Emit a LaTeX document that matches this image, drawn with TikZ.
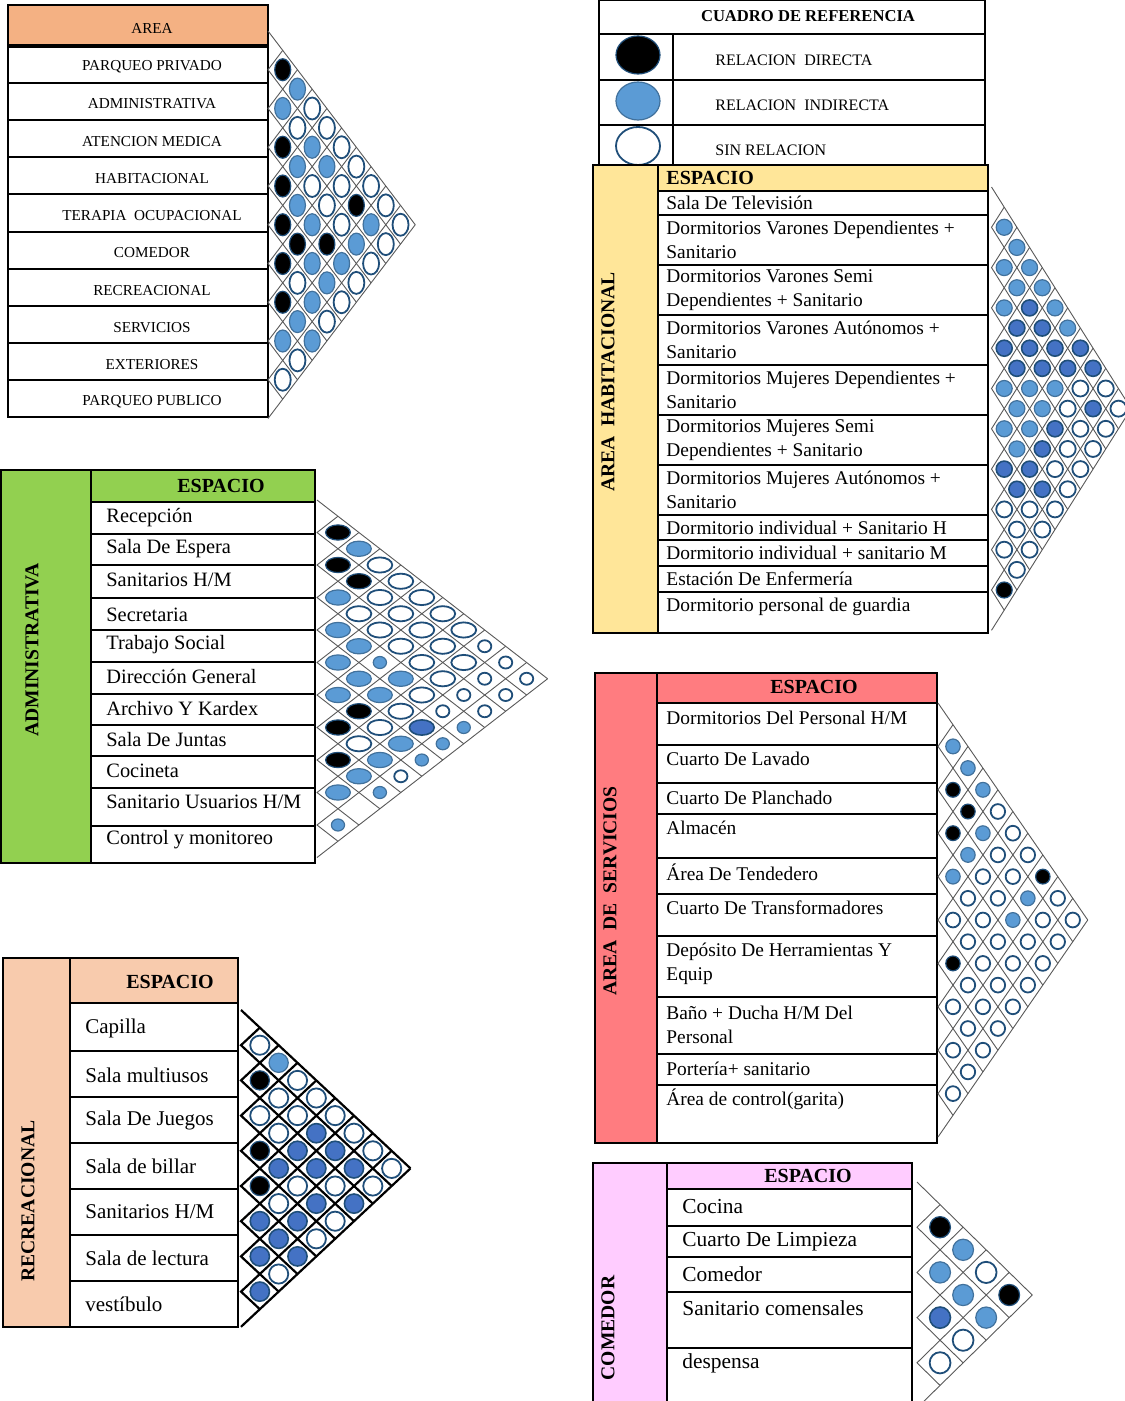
\documentclass[tikz,border=0pt]{standalone}
\usepackage{fontspec}
\setmainfont{Liberation Serif}
\definecolor{cOrange}{HTML}{F4B183}
\definecolor{cYellow}{HTML}{FFE699}
\definecolor{cGreen}{HTML}{92D050}
\definecolor{cRed}{HTML}{FF7C80}
\definecolor{cPeach}{HTML}{F8CBAD}
\definecolor{cPink}{HTML}{FFCCFF}
\definecolor{cBlue}{HTML}{5B9BD5}
\definecolor{cBlueLine}{HTML}{41719C}
\definecolor{cDark}{HTML}{1F4E79}
\definecolor{cMid}{HTML}{4472C4}
\tikzset{
  tbl/.style={draw=black, line width=1pt},
  gridthin/.style={draw=black!65, line width=0.45pt},
  gridthick/.style={draw=black, line width=1.1pt},
  relB/.style={fill=black, draw=cDark, line width=0.6pt},
  relI/.style={fill=cBlue, draw=cBlueLine, line width=0.6pt},
  relD/.style={fill=cMid, draw=cDark, line width=0.8pt},
  relO/.style={fill=white, draw=cDark, line width=0.9pt},
  relN/.style={},
  relIs/.style={relI, x radius=3.3pt, y radius=3pt},
  relOs/.style={relO, x radius=3.3pt, y radius=3pt},
  txtA/.style={font=\fontsize{7.6}{9}\selectfont, inner sep=0pt},
  txtR/.style={font=\fontsize{8}{10}\selectfont, anchor=west, inner sep=0pt},
  txtH/.style={font=\fontsize{9.7}{12}\selectfont, anchor=west, inner sep=0pt, align=left},
  txtAd/.style={font=\fontsize{10.2}{12}\selectfont, anchor=west, inner sep=0pt},
  txtRe/.style={font=\fontsize{10.5}{12}\selectfont, anchor=west, inner sep=0pt},
  txtC/.style={font=\fontsize{10.7}{12}\selectfont, anchor=west, inner sep=0pt},
  head/.style={font=\bfseries\fontsize{10}{12}\selectfont, inner sep=0pt},
  vtitle/.style={font=\bfseries\fontsize{9.8}{12}\selectfont, rotate=90, inner sep=0pt}
}
% #1 x0, #2 top, #3 row height, #4 slope, #5 rows, #6 line style, #7 x radius, #8 y radius, #9 diagonals
\newcommand\relmat[9]{%
  \foreach \kk in {0,...,#5}{%
    \pgfmathsetmacro\yk{#2+\kk*#3}%
    \pgfmathsetmacro\ldx{#4*(#5-\kk)*#3/2}%
    \pgfmathsetmacro\ldy{(#5-\kk)*#3/2}%
    \pgfmathsetmacro\udx{#4*\kk*#3/2}%
    \pgfmathsetmacro\udy{\kk*#3/2}%
    \draw[#6] (#1+\udx,\yk-\udy) -- (#1,\yk) -- (#1+\ldx,\yk+\ldy);
  }%
  \foreach \diag [count=\dd] in {#9}{%
    \foreach \vv [count=\ii] in \diag {%
      \pgfmathsetmacro\cx{#1+#4*\dd*#3/2}%
      \pgfmathsetmacro\cy{#2+(\ii+(\dd-1)/2)*#3}%
      \path[x radius=#7, y radius=#8, rel\vv] (\cx,\cy) ellipse[];
    }%
  }%
}
\begin{document}
\begin{tikzpicture}[x=0.5pt,y=-0.5pt]
\useasboundingbox[fill=white] (0,0) rectangle (1124,1401);

% ================= AREA table =================
\fill[cOrange] (8,5) rectangle (268,45);
\draw[tbl] (8,5) rectangle (268,417);
\draw[draw=black, line width=1.6pt] (8,46) -- (268,46);
\foreach \yy in {83,120,157,194,232,269,306,343,380}{\draw[tbl] (8,\yy) -- (268,\yy);}
\node[txtA] (areah) at (152,28) {AREA};
\node[txtA] (ar1) at (152,67) {PARQUEO PRIVADO};
\node[txtA] (ar2) at (152,104) {ADMINISTRATIVA};
\node[txtA] (ar3) at (152,142) {ATENCION MEDICA};
\node[txtA] (ar4) at (152,179) {HABITACIONAL};
\node[txtA] (ar5) at (152,216) {TERAPIA\ \ OCUPACIONAL};
\node[txtA] (ar6) at (152,253) {COMEDOR};
\node[txtA] (ar7) at (152,291) {RECREACIONAL};
\node[txtA] (ar8) at (152,328) {SERVICIOS};
\node[txtA] (ar9) at (152,365) {EXTERIORES};
\node[txtA] (ar10) at (152,402) {PARQUEO PUBLICO};
\relmat{268}{31}{38.75}{0.76}{10}{gridthin}{4pt}{5.5pt}{{B,I,B,B,B,B,B,I,O},{I,O,I,I,B,O,I,O},{O,I,O,I,I,I,I},{O,I,O,B,I,O},{O,O,O,I,O},{O,B,I,O},{O,I,O},{O,O},{O}}

% ================= Reference box =================
\draw[tbl] (599,0) -- (985,0);
\draw[tbl] (599,0) -- (599,165);
\draw[tbl] (985,0) -- (985,165);
\draw[tbl] (673,34) -- (673,165);
\foreach \yy in {34,80,125}{\draw[tbl] (599,\yy) -- (985,\yy);}
\path[relB] (638,55) ellipse[x radius=11pt, y radius=9.5pt];
\path[relI] (638,101) ellipse[x radius=11pt, y radius=9.5pt];
\path[relO] (638,146) ellipse[x radius=11pt, y radius=9.5pt];
\node[font=\bfseries\fontsize{8.3}{10}\selectfont, inner sep=0pt] (reft) at (808,16) {CUADRO DE REFERENCIA};
\node[txtR] (ref1) at (715,60) {RELACION\ \ DIRECTA};
\node[txtR] (ref2) at (715,105) {RELACION\ \ INDIRECTA};
\node[txtR] (ref3) at (715,150) {SIN RELACION};

% ================= Habitacional =================
\fill[cYellow] (593,165) rectangle (658,633);
\fill[cYellow] (658,165) rectangle (988,191);
\fill[white] (658,191) rectangle (988,633);
\draw[tbl] (593,165) rectangle (988,633);
\draw[tbl] (658,165) -- (658,633);
\foreach \yy in {191,215,265,315,365,415,465,515,540,566,592}{\draw[tbl] (658,\yy) -- (988,\yy);}
\node[head, anchor=west] (hbh) at (666,178) {ESPACIO};
\node[vtitle] (hbt) at (608,382) {AREA\ \ HABITACIONAL};
\node[txtH] (hb1) at (666,203) {Sala De Televisión};
\node[txtH] (hb2) at (666,240) {Dormitorios Varones Dependientes +\\Sanitario};
\node[txtH] (hb3) at (666,290) {Dormitorios Varones Semi\\Dependientes + Sanitario};
\node[txtH] (hb4) at (666,340) {Dormitorios Varones Autónomos +\\Sanitario};
\node[txtH] (hb5) at (666,390) {Dormitorios Mujeres Dependientes +\\Sanitario};
\node[txtH] (hb6) at (666,440) {Dormitorios Mujeres Semi\\Dependientes + Sanitario};
\node[txtH] (hb7) at (666,490) {Dormitorios Mujeres Autónomos +\\Sanitario};
\node[txtH] (hb8) at (666,528) {Dormitorio individual + Sanitario H};
\node[txtH] (hb9) at (666,553) {Dormitorio individual + sanitario M};
\node[txtH] (hb10) at (666,579) {Estación De Enfermería};
\node[txtH] (hb11) at (666,607) {Dormitorio personal de guardia};
\relmat{991.5}{187}{40.3}{0.63}{11}{gridthin}{4pt}{4pt}{{I,I,I,D,I,I,D,O,O,B},{I,I,D,D,I,I,D,O,O},{I,D,D,I,I,D,O,O},{I,D,D,I,D,D,O},{I,D,I,D,O,O},{I,D,O,O,O},{D,O,O,O},{D,D,O},{O,O},{O}}

% ================= Administrativa =================
\fill[cGreen] (1,470) rectangle (91,863);
\fill[cGreen] (91,470) rectangle (315,502);
\draw[tbl] (1,470) rectangle (315,863);
\draw[tbl] (91,470) -- (91,863);
\foreach \yy in {502,534,565,598,630,662,694,725,756,788,826}{\draw[tbl] (91,\yy) -- (315,\yy);}
\node[head] (adh) at (221,486) {ESPACIO};
\node[vtitle] (adt) at (32,650) {ADMINISTRATIVA};
\node[txtAd] (ad1) at (106,518) {Recepción};
\node[txtAd] (ad2) at (106,549) {Sala De Espera};
\node[txtAd] (ad3) at (106,580) {Sanitarios H/M};
\node[txtAd] (ad4) at (106,615) {Secretaria};
\node[txtAd] (ad5) at (106,645) {Trabajo Social};
\node[txtAd] (ad6) at (106,677) {Dirección General};
\node[txtAd] (ad7) at (106,709) {Archivo Y Kardex};
\node[txtAd] (ad8) at (106,740) {Sala De Juntas};
\node[txtAd] (ad9) at (106,771) {Cocineta};
\node[txtAd] (ad10) at (106,802) {Sanitario Usuarios H/M};
\node[txtAd] (ad11) at (106,840) {Control y monitoreo};
\relmat{317}{500}{32.5}{1.29}{11}{gridthin}{6.2pt}{3.8pt}{{B,B,I,I,I,I,B,B,I,Is},{I,B,O,I,I,B,O,I,N},{O,O,O,Is,I,O,I,Is},{O,O,O,I,O,I,Os},{O,O,O,O,D,Is},{O,O,O,Os,Is},{O,O,Os,Is},{Os,Os,Os},{Os,Os},{Os}}

% ================= Servicios =================
\fill[cRed] (595,673) rectangle (657,1143);
\fill[cRed] (657,673) rectangle (937,703);
\draw[tbl] (595,673) rectangle (937,1143);
\draw[tbl] (657,673) -- (657,1143);
\foreach \yy in {703,745,783,814,858,894,936,997,1054,1085}{\draw[tbl] (657,\yy) -- (937,\yy);}
\node[head] (svh) at (814,687) {ESPACIO};
\node[vtitle] (svt) at (610,891) {AREA\ \ DE\ \ SERVICIOS};
\node[txtH] (sv1) at (666,718) {Dormitorios Del Personal H/M};
\node[txtH] (sv2) at (666,759) {Cuarto De Lavado};
\node[txtH] (sv3) at (666,798) {Cuarto De Planchado};
\node[txtH] (sv4) at (666,828) {Almacén};
\node[txtH] (sv5) at (666,872) {Área De Tendedero};
\node[txtH] (sv6) at (666,908) {Cuarto De Transformadores};
\node[txtH] (sv7) at (666,963.5) {Depósito De Herramientas Y\\Equip};
\node[txtH] (sv8) at (666,1024.5) {Baño + Ducha H/M Del\\Personal};
\node[txtH] (sv9) at (666,1069) {Portería+ sanitario};
\node[txtH] (sv10) at (666,1099) {Área de control(garita)};
\relmat{938}{703}{43.4}{0.69}{10}{gridthin}{3.6pt}{3.7pt}{{I,B,B,I,O,B,O,O,O},{I,B,I,O,O,O,O,O},{I,I,O,O,O,O,O},{O,O,O,O,O,O},{O,O,I,O,O},{O,I,O,O},{B,O,O},{O,O},{O}}

% ================= Recreacional =================
\fill[cPeach] (3,958) rectangle (70,1327);
\fill[cPeach] (70,958) rectangle (238,1003);
\draw[tbl] (3,958) rectangle (238,1327);
\draw[tbl] (70,958) -- (70,1327);
\foreach \yy in {1003,1051,1097,1143,1189,1235,1281}{\draw[tbl] (70,\yy) -- (238,\yy);}
\node[head] (reh) at (170,982) {ESPACIO};
\node[vtitle] (ret) at (28,1201) {RECREACIONAL};
\node[txtRe] (re1) at (85,1028) {Capilla};
\node[txtRe] (re2) at (85,1075) {Sala multiusos};
\node[txtRe] (re3) at (85,1120) {Sala De Juegos};
\node[txtRe] (re4) at (85,1166) {Sala de billar};
\node[txtRe] (re5) at (85,1212) {Sanitarios H/M};
\node[txtRe] (re6) at (85,1258) {Sala de lectura};
\node[txtRe] (re7) at (85,1304) {vestíbulo};
\relmat{241}{1010}{35.2}{1.07}{9}{gridthick}{4.8pt}{4.8pt}{{O,B,O,B,B,D,D,D},{I,O,O,D,O,D,O},{O,O,D,O,D,D},{O,D,D,D,O},{O,D,O,O},{O,D,D},{O,O},{O}}

% ================= Comedor =================
\fill[cPink] (593,1163) rectangle (667,1405);
\fill[cPink] (667,1163) rectangle (912,1189);
\draw[tbl] (593,1405) -- (593,1163) -- (912,1163) -- (912,1405);
\draw[tbl] (667,1163) -- (667,1405);
\foreach \yy in {1189,1226,1257,1292,1348}{\draw[tbl] (667,\yy) -- (912,\yy);}
\node[head] (coh) at (808,1176) {ESPACIO};
\node[vtitle] (cot) at (608,1328) {COMEDOR};
\node[txtC] (co1) at (682,1207) {Cocina};
\node[txtC] (co2) at (682,1242) {Cuarto De Limpieza};
\node[txtC] (co3) at (682,1274) {Comedor};
\node[txtC] (co4) at (682,1308) {Sanitario comensales};
\node[txtC] (co5) at (682,1363) {despensa};
\relmat{917}{1182}{45.2}{1.02}{5}{gridthin}{5.2pt}{5.3pt}{{B,I,D,O},{I,I,O},{O,I},{B}}
\end{tikzpicture}
\end{document}
